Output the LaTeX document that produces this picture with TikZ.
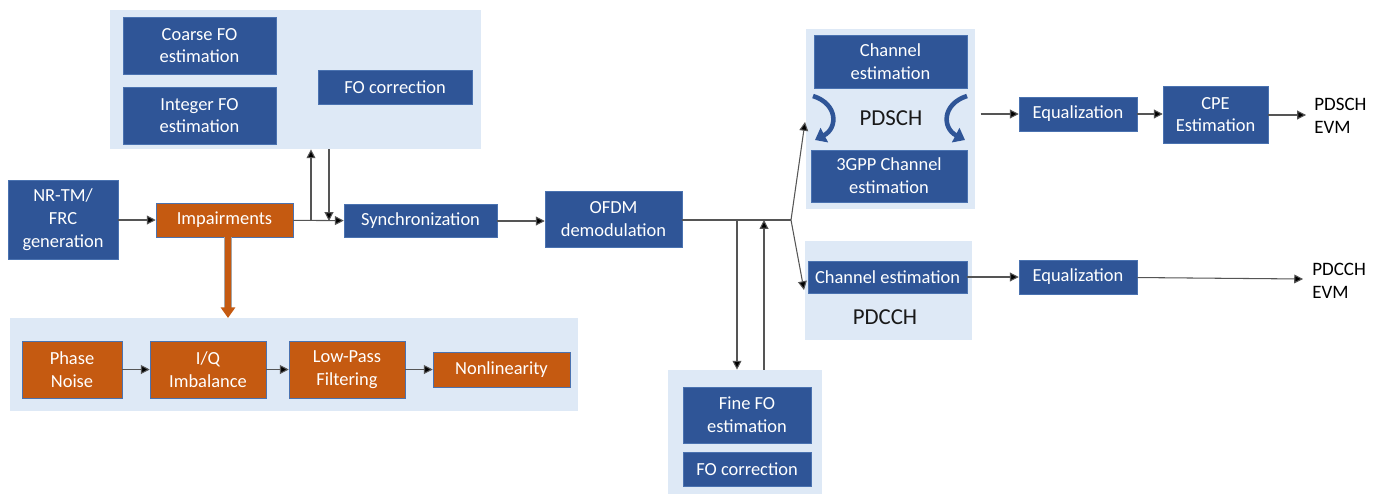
\documentclass[tikz,border=0pt]{standalone}
\usepackage{fontspec}
\setmainfont{Carlito}
\usepackage{xcolor}
\usepackage{tikz}
\usetikzlibrary{positioning,arrows.meta}
\definecolor{boxblue}{HTML}{2F5597}
\definecolor{boxedge}{HTML}{4A72B0}
\definecolor{impcol}{HTML}{C55A11}
\definecolor{grpbg}{HTML}{DEE9F6}
\definecolor{linegray}{HTML}{555555}

\tikzset{
  blk/.style 2 args={fill=boxblue, draw=boxedge, line width=0.3pt, text=white,
    minimum width=#1*0.02cm, minimum height=#2*0.02cm, inner sep=0pt,
    align=center, font=\fontsize{10.5}{13}\selectfont},
  impblk/.style 2 args={blk={#1}{#2}, fill=impcol, draw=boxedge},
  grp/.style 2 args={fill=grpbg, draw=none, minimum width=#1*0.02cm,
    minimum height=#2*0.02cm, inner sep=0pt},
  lbl/.style={text=black, align=left, inner sep=0pt, font=\fontsize{10.8}{13}\selectfont},
  chlbl/.style={inner sep=0pt, font=\fontsize{13}{15}\selectfont, text=black!90},
  arr/.style={draw=linegray, line width=0.6pt, -{Triangle[length=5pt,width=5pt,fill=black]}},
  loop/.style={draw=boxblue, line width=2.6pt, -{Triangle[length=6pt,width=9pt]}}
}

\begin{document}
\begin{tikzpicture}[x=0.02cm, y=-0.02cm]
\useasboundingbox (0,0) rectangle (1378,494);

% group backgrounds
\node[grp={371}{139}] (topgrp) at (295.5,79.5) {};
\node[grp={568}{93}] (botgrp) at (294,364.5) {};
\node[grp={154}{124}] (finegrp) at (745,432) {};
\node[grp={169}{180}] (pdschgrp) at (890.5,119) {};
\node[grp={167}{99}] (pdcchgrp) at (888.5,290.5) {};

% frequency offset blocks
\node[blk={153}{57}] (coarse) at (199.5,45.5) {Coarse FO\\estimation};
\node[blk={153}{57}] (integer) at (199.5,115.5) {Integer FO\\estimation};
\node[blk={154}{34}] (focorr) at (395,87) {FO correction};

% main chain
\node[blk={110}{79}] (nrtm) at (63,220) {NR-TM/\\FRC\\generation};
\node[impblk={137}{34}] (impair) at (224.5,220) {Impairments};
\node[blk={153}{33}] (sync) at (420.5,221) {Synchronization};
\node[blk={137}{56}] (ofdm) at (613.5,219) {OFDM\\demodulation};

% impairment chain
\node[impblk={100}{57}] (phase) at (72,369.5) {Phase\\Noise};
\node[impblk={116}{57}] (iq) at (208,369.5) {I/Q\\Imbalance};
\node[impblk={116}{57}] (lpf) at (347,369.5) {Low-Pass\\Filtering};
\node[impblk={137}{35}] (nonlin) at (501.5,369.5) {Nonlinearity};

% fine FO
\node[blk={128}{56}] (finefo) at (747,415) {Fine FO\\estimation};
\node[blk={128}{34}] (finecorr) at (747,469) {FO correction};

% PDSCH
\node[blk={153}{53}] (chestA) at (890.5,61.5) {Channel\\estimation};
\node[blk={156}{52}] (gpp) at (889,176) {3GPP Channel\\estimation};
\node[chlbl] (pdschlbl) at (891,118) {PDSCH};
\node[blk={118}{34}] (eqA) at (1078,114) {Equalization};
\node[blk={105}{57}] (cpe) at (1215.5,114.5) {CPE\\Estimation};
\node[lbl, anchor=west] (pdschevm) at (1314,116) {PDSCH\\EVM};

% PDCCH
\node[blk={159}{32}] (chestB) at (887.5,277) {Channel estimation};
\node[chlbl] (pdcchlbl) at (885,317) {PDCCH};
\node[blk={118}{34}] (eqB) at (1078,277) {Equalization};
\node[lbl, anchor=west] (pdcchevm) at (1312,281) {PDCCH\\EVM};

\coordinate (upA) at (311,221);
\coordinate (dnA) at (329,221);
\coordinate (split) at (791,220);
\coordinate (dnB) at (737,220);
\coordinate (upB) at (764,220);

\draw[arr] (nrtm) -- (impair);
\draw[arr] (impair) -- (sync);
\draw[arr] (upA) -- (upA |- topgrp.south);
\draw[arr] (dnA |- topgrp.south) -- (dnA);
\draw[draw=black!35, line width=4.2pt] (impair.south -| 228,0) -- (228,308);
\draw[draw=impcol, line width=3pt, -{Triangle[length=6pt,width=8pt]}] (impair.south -| 228,0) -- (228 ,318);

\draw[arr] (phase) -- (iq);
\draw[arr] (iq) -- (lpf);
\draw[arr] (lpf) -- (lpf -| nonlin.west);
\draw[arr] (sync) -- (sync -| ofdm.west);

\draw[draw=linegray, line width=0.6pt] (ofdm.east |- split) -- (split);
\draw[arr] (split) -- (805,122);
\draw[arr] (split) -- (804,290);
\draw[arr] (dnB) -- (dnB |- finegrp.north);
\draw[arr] (upB |- finegrp.north) -- (upB);

\draw[loop] (813,96) .. controls (838,104) and (838,128) .. (815,140);
\draw[loop] (967,96) .. controls (942,104) and (942,128) .. (965,140);

\draw[arr] ([xshift=3pt]pdschgrp.east |- eqA) -- (eqA);
\draw[arr] (eqA) -- (eqA -| cpe.west);
\draw[arr] (cpe.east |- 0,115) -- (1306,115);
\draw[arr] (chestB) -- (eqB);
\draw[arr] (eqB) -- (1303,279);
\end{tikzpicture}
\end{document}
